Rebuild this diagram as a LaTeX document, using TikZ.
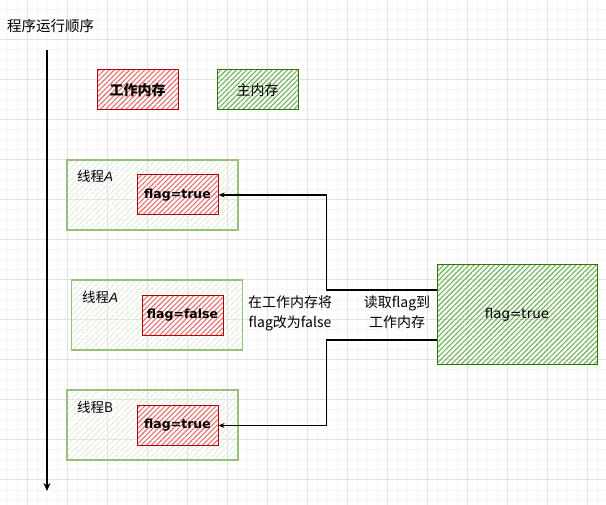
\documentclass[tikz,border=0pt]{standalone}
\usepackage{fontspec}
\setmainfont{Noto Sans CJK SC}
\newfontfamily\flagfont{DejaVu Sans}
\newfontfamily\latinit{Liberation Sans}
\usetikzlibrary{patterns.meta,arrows.meta}
\definecolor{redS}{HTML}{B20000}
\definecolor{redH}{HTML}{EA6E6E}
\definecolor{grnS}{HTML}{2D7600}
\definecolor{grnH}{HTML}{6DB356}
\definecolor{thrS}{HTML}{97C07E}
\definecolor{thrH}{HTML}{DDECD6}
\definecolor{gridMaj}{HTML}{E2E2E2}
\definecolor{gridMin}{HTML}{F5F5F5}
\tikzset{
  redbox/.style={draw=redS, line width=1pt, preaction={fill=white},
    pattern={Lines[angle=45,distance=3.6pt,line width=1.1pt]}, pattern color=redH,
    minimum width=81pt, minimum height=40pt, inner sep=0pt,
    font=\flagfont\bfseries\fontsize{12.5}{15}\selectfont},
  grnbox/.style={draw=grnS, line width=1pt,
    pattern={Lines[angle=45,distance=3.6pt,line width=1.1pt]}, pattern color=grnH,
    minimum width=81pt, minimum height=40pt, inner sep=0pt},
  thrbox/.style={draw=thrS, line width=1.2pt,
    pattern={Lines[angle=45,distance=4pt,line width=1pt]}, pattern color=thrH,
    minimum width=171pt, minimum height=70pt, inner sep=0pt},
  lbl/.style={font=\fontsize{13.5}{16}\selectfont, inner sep=0pt, anchor=west},
  note/.style={font=\fontsize{14}{20}\selectfont, align=center, inner sep=0pt},
  conn/.style={draw=black, line width=1.1pt, -{Stealth[open,length=6pt,width=5pt]}},
}
\begin{document}
\begin{tikzpicture}[x=1pt,y=-1pt]
\useasboundingbox (0,0) rectangle (606,505);
% grid
\foreach \x in {7,17,...,606} \draw[gridMin, line width=1pt] (\x,0) -- (\x,505);
\foreach \y in {0,10,...,505} \draw[gridMin, line width=1pt] (0,\y) -- (606,\y);
\foreach \x in {27,67,...,606} \draw[gridMaj, line width=1pt] (\x,0) -- (\x,505);
\foreach \y in {0,40,...,505} \draw[gridMaj, line width=1pt] (0,\y) -- (606,\y);

% title and time axis
\node[lbl, font=\fontsize{14.5}{16}\selectfont] (title) at (7,26) {程序运行顺序};
\coordinate (axtop) at (47,50);
\coordinate (axbot) at (47,491);
\draw[line width=1.5pt, -{Stealth[open,length=8pt,width=7pt]}] (axtop) -- (axbot);

% legend
\node[redbox, font=\fontsize{14}{16}\selectfont\bfseries] (legw) at (137.5,90) {工作内存};
\node[grnbox, font=\fontsize{14}{16}\selectfont] (legm) at (257.5,90) {主内存};

% thread A (1)
\node[thrbox] (t1) at (152.5,195) {};
\node[lbl] (t1l) at (77,176) {线程{\latinit\itshape A}};
\node[redbox] (in1) at (177.5,195) {flag=true};

% thread A (2)
\node[thrbox] (t2) at (157,315) {};
\node[lbl] (t2l) at (82,297) {线程{\latinit\itshape A}};
\node[redbox] (in2) at (182.5,315.5) {flag=false};
\node[note] (n1) at (290,313) {在工作内存将\\flag改为false};

% thread B
\node[thrbox] (t3) at (152.5,425) {};
\node[lbl] (t3l) at (77,407) {线程B};
\node[redbox] (in3) at (177.5,425.5) {flag=true};

% main memory
\node[grnbox, minimum width=160pt, minimum height=100pt,
      font=\flagfont\fontsize{13.5}{15}\selectfont] (big) at (517,315) {flag=true};
\node[note] (n2) at (397,312) {读取flag到\\工作内存};

% connectors
\coordinate (y1) at (0,290);
\coordinate (y2) at (0,340);
\draw[conn] (big.west |- y1) -- ++(-110,0) |- (in1.east);
\draw[conn] (big.west |- y2) -- ++(-110,0) |- (in3.east);
\end{tikzpicture}
\end{document}
